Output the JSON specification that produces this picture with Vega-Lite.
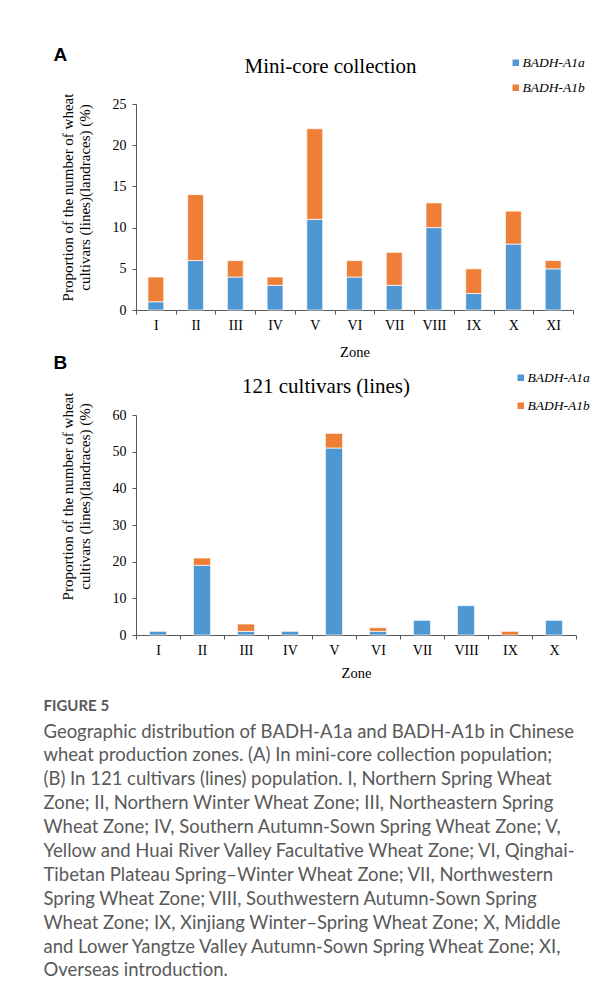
{
  "$schema": "https://vega.github.io/schema/vega-lite/v6.json",
  "background": "white",
  "padding": {"left": 43, "top": 46, "right": 0, "bottom": 0},
  "config": {
    "view": {"stroke": null},
    "font": "Liberation Serif",
    "axis": {"domainColor": "#595959", "tickColor": "#595959", "labelColor": "#000000", "titleColor": "#000000", "labelFont": "Liberation Serif", "titleFont": "Liberation Serif", "titleFontWeight": "normal", "grid": false, "labelFontSize": 14, "tickSize": 4},
    "axisX": {"titleFontSize": 14.5, "labelPadding": 4, "titlePadding": 13, "labelAngle": 0, "tickBand": "extent"},
    "axisY": {"titleFontSize": 15, "titleLineHeight": 16.5, "labelPadding": 6, "titlePadding": 20}
  },
  "datasets": {
    "mini": [
      {"zone": "I", "allele": "BADH-A1a", "value": 1}, {"zone": "I", "allele": "BADH-A1b", "value": 3},
      {"zone": "II", "allele": "BADH-A1a", "value": 6}, {"zone": "II", "allele": "BADH-A1b", "value": 8},
      {"zone": "III", "allele": "BADH-A1a", "value": 4}, {"zone": "III", "allele": "BADH-A1b", "value": 2},
      {"zone": "IV", "allele": "BADH-A1a", "value": 3}, {"zone": "IV", "allele": "BADH-A1b", "value": 1},
      {"zone": "V", "allele": "BADH-A1a", "value": 11}, {"zone": "V", "allele": "BADH-A1b", "value": 11},
      {"zone": "VI", "allele": "BADH-A1a", "value": 4}, {"zone": "VI", "allele": "BADH-A1b", "value": 2},
      {"zone": "VII", "allele": "BADH-A1a", "value": 3}, {"zone": "VII", "allele": "BADH-A1b", "value": 4},
      {"zone": "VIII", "allele": "BADH-A1a", "value": 10}, {"zone": "VIII", "allele": "BADH-A1b", "value": 3},
      {"zone": "IX", "allele": "BADH-A1a", "value": 2}, {"zone": "IX", "allele": "BADH-A1b", "value": 3},
      {"zone": "X", "allele": "BADH-A1a", "value": 8}, {"zone": "X", "allele": "BADH-A1b", "value": 4},
      {"zone": "XI", "allele": "BADH-A1a", "value": 5}, {"zone": "XI", "allele": "BADH-A1b", "value": 1}
    ],
    "cult": [
      {"zone": "I", "allele": "BADH-A1a", "value": 1},
      {"zone": "II", "allele": "BADH-A1a", "value": 19}, {"zone": "II", "allele": "BADH-A1b", "value": 2},
      {"zone": "III", "allele": "BADH-A1a", "value": 1}, {"zone": "III", "allele": "BADH-A1b", "value": 2},
      {"zone": "IV", "allele": "BADH-A1a", "value": 1},
      {"zone": "V", "allele": "BADH-A1a", "value": 51}, {"zone": "V", "allele": "BADH-A1b", "value": 4},
      {"zone": "VI", "allele": "BADH-A1a", "value": 1}, {"zone": "VI", "allele": "BADH-A1b", "value": 1},
      {"zone": "VII", "allele": "BADH-A1a", "value": 4},
      {"zone": "VIII", "allele": "BADH-A1a", "value": 8},
      {"zone": "IX", "allele": "BADH-A1b", "value": 1},
      {"zone": "X", "allele": "BADH-A1a", "value": 4}
    ]
  },
  "title": {
    "text": "FIGURE 5",
    "subtitle": [
      "Geographic distribution of BADH-A1a and BADH-A1b in Chinese",
      "wheat production zones. (A) In mini-core collection population;",
      "(B) In 121 cultivars (lines) population. I, Northern Spring Wheat",
      "Zone; II, Northern Winter Wheat Zone; III, Northeastern Spring",
      "Wheat Zone; IV, Southern Autumn-Sown Spring Wheat Zone; V,",
      "Yellow and Huai River Valley Facultative Wheat Zone; VI, Qinghai-",
      "Tibetan Plateau Spring–Winter Wheat Zone; VII, Northwestern",
      "Spring Wheat Zone; VIII, Southwestern Autumn-Sown Spring",
      "Wheat Zone; IX, Xinjiang Winter–Spring Wheat Zone; X, Middle",
      "and Lower Yangtze Valley Autumn-Sown Spring Wheat Zone; XI,",
      "Overseas introduction."
    ],
    "orient": "bottom",
    "anchor": "start",
    "frame": "bounds",
    "dx": -10,
    "offset": 19,
    "font": "Lato",
    "fontSize": 15,
    "fontWeight": "bold",
    "color": "#595959",
    "subtitleFont": "Lato",
    "subtitleFontSize": 18.5,
    "subtitleColor": "#595959",
    "subtitleLineHeight": 23.9,
    "subtitlePadding": 9
  },
  "resolve": {"scale": {"color": "independent"}},
  "spacing": -5,
  "vconcat": [
    {
      "title": {"text": "A", "anchor": "start", "font": "Liberation Sans", "fontSize": 19, "fontWeight": "bold", "color": "#000000", "dx": -7, "offset": -9.5},
      "resolve": {"scale": {"color": "independent"}},
      "vconcat": [
        {
          "width": 437,
          "height": 206,
          "data": {"name": "mini"},
          "title": {"text": "Mini-core collection", "font": "Liberation Serif", "fontSize": 21, "fontWeight": "normal", "color": "#000000", "anchor": "middle", "dx": -24, "offset": -20.5},
          "mark": {"type": "bar", "width": {"band": 0.4}, "stroke": "#ffffff", "strokeWidth": 0.7},
          "encoding": {
            "x": {"field": "zone", "type": "nominal", "sort": ["I", "II", "III", "IV", "V", "VI", "VII", "VIII", "IX", "X", "XI"], "scale": {"paddingInner": 0, "paddingOuter": 0}, "title": "Zone"},
            "y": {"field": "value", "type": "quantitative", "stack": "zero", "scale": {"domain": [0, 25]}, "axis": {"values": [0, 5, 10, 15, 20, 25], "title": ["Proportion of the number of wheat", "cultivars (lines)(landraces) (%)"], "titleY": 93}},
            "order": {"field": "allele", "sort": "ascending"},
            "color": {"field": "allele", "type": "nominal", "scale": {"domain": ["BADH-A1a", "BADH-A1b"], "range": ["#4F97D3", "#EF7F36"]}, "legend": {"orient": "none", "legendX": 373, "legendY": -48, "title": null, "symbolType": "square", "symbolSize": 42, "symbolStrokeWidth": 0, "labelFont": "Liberation Serif", "labelFontStyle": "italic", "labelFontSize": 13.5, "labelColor": "#000000", "rowPadding": 10, "labelOffset": 0}}
          }
        }
      ]
    },
    {
      "title": {"text": "B", "anchor": "start", "font": "Liberation Sans", "fontSize": 19, "fontWeight": "bold", "color": "#000000", "dx": -7, "offset": -2},
      "resolve": {"scale": {"color": "independent"}},
      "vconcat": [
        {
          "width": 440,
          "height": 220,
          "data": {"name": "cult"},
          "title": {"text": "121 cultivars (lines)", "font": "Liberation Serif", "fontSize": 21, "fontWeight": "normal", "color": "#000000", "anchor": "middle", "dx": -30, "offset": -26},
          "mark": {"type": "bar", "width": {"band": 0.39}, "stroke": "#ffffff", "strokeWidth": 0.7},
          "encoding": {
            "x": {"field": "zone", "type": "nominal", "sort": ["I", "II", "III", "IV", "V", "VI", "VII", "VIII", "IX", "X"], "scale": {"paddingInner": 0, "paddingOuter": 0}, "title": "Zone", "axis": {"titlePadding": 9}},
            "y": {"field": "value", "type": "quantitative", "stack": "zero", "scale": {"domain": [0, 60]}, "axis": {"values": [0, 10, 20, 30, 40, 50, 60], "title": ["Proportion of the number of wheat", "cultivars (lines)(landraces) (%)"], "titleY": 81}},
            "order": {"field": "allele", "sort": "ascending"},
            "color": {"field": "allele", "type": "nominal", "scale": {"domain": ["BADH-A1a", "BADH-A1b"], "range": ["#4F97D3", "#EF7F36"]}, "legend": {"orient": "none", "legendX": 378, "legendY": -44, "title": null, "symbolType": "square", "symbolSize": 42, "symbolStrokeWidth": 0, "labelFont": "Liberation Serif", "labelFontStyle": "italic", "labelFontSize": 13.5, "labelColor": "#000000", "rowPadding": 13, "labelOffset": 0}}
          }
        }
      ]
    }
  ]
}
